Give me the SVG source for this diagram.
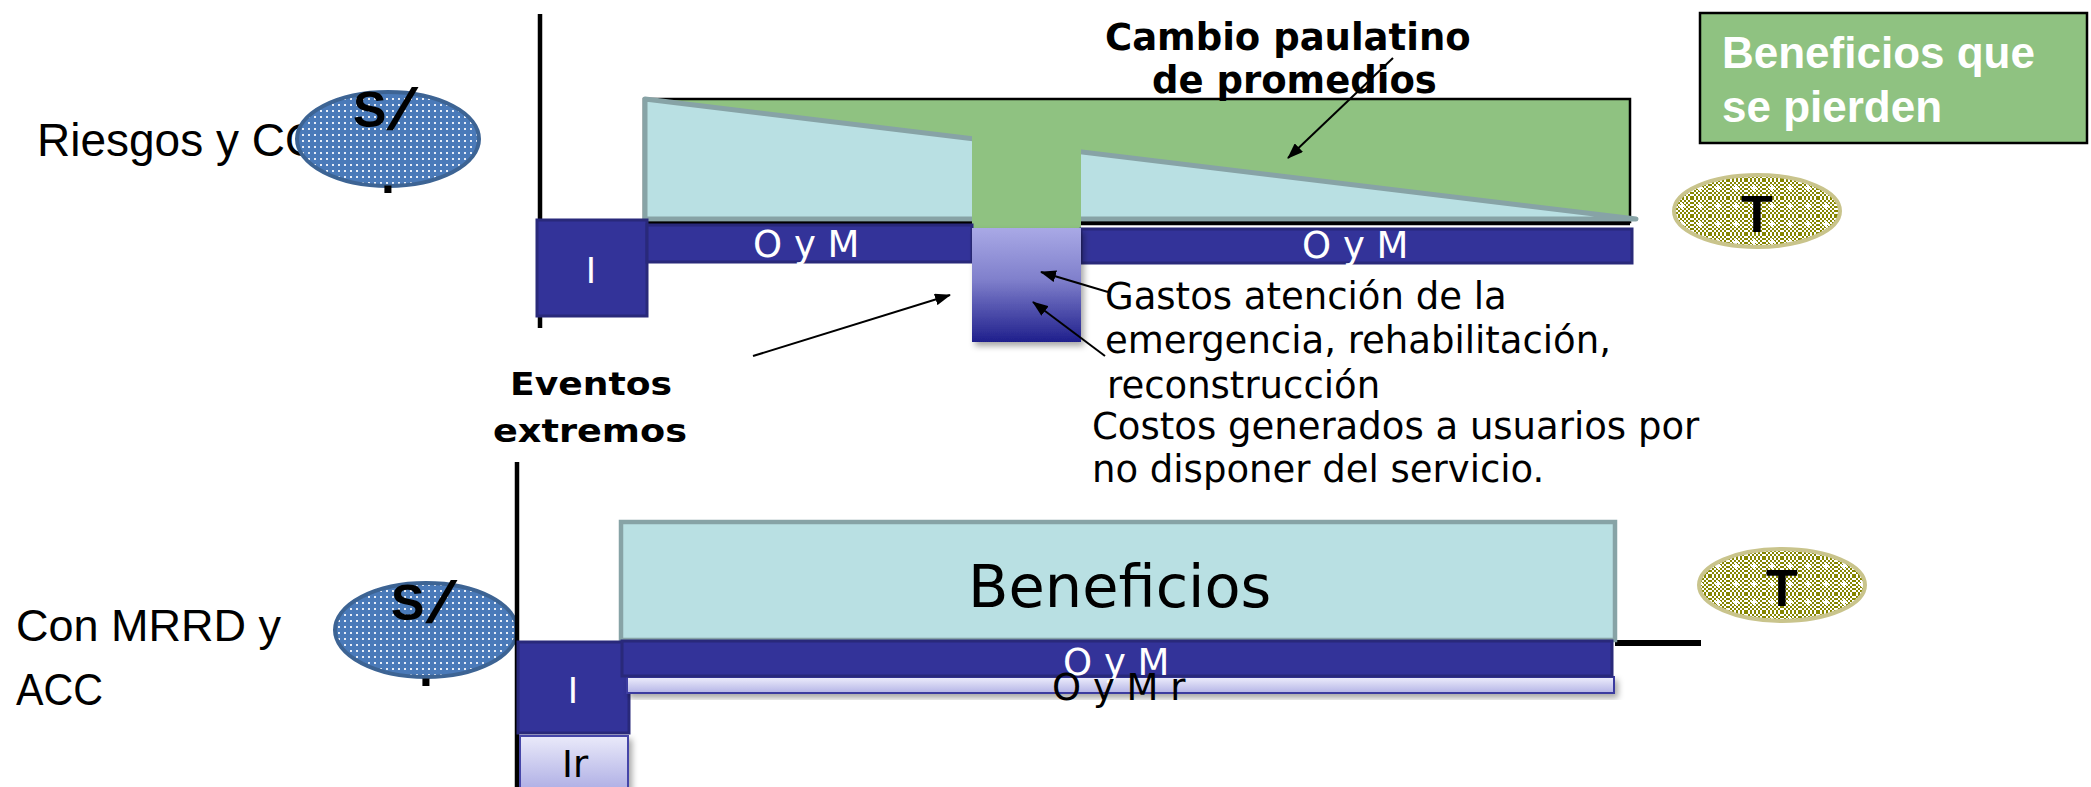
<svg xmlns="http://www.w3.org/2000/svg" width="2091" height="787" viewBox="0 0 2091 787">
<defs>
<style>
.ls{font-family:"Liberation Sans",Arial,sans-serif;}
.dv{font-family:"DejaVu Sans",Verdana,sans-serif;}
.b{font-weight:bold;}
.wt{fill:#ffffff;}
.bk{fill:#000000;}
.axis{stroke:#000;stroke-width:4.5;fill:none;}
.bar{fill:#333399;stroke:#29297a;stroke-width:3;}
.conn{stroke:#000;stroke-width:2;fill:none;marker-end:url(#ah);}
.sell{fill:url(#dots);stroke:#3d6494;stroke-width:4;}
.tell{fill:url(#tpat);stroke:#c9c48c;stroke-width:4;}
</style>
<pattern id="dots" width="6" height="6" patternUnits="userSpaceOnUse">
<rect width="6" height="6" fill="#4a7ab9"/>
<rect x="2" y="2" width="2" height="2" fill="#e8eef8"/>
</pattern>
<pattern id="chk" width="4" height="4" patternUnits="userSpaceOnUse">
<rect width="4" height="4" fill="#ffffff"/>
<rect width="2" height="2" fill="#858500"/>
<rect x="2" y="2" width="2" height="2" fill="#858500"/>
</pattern>
<pattern id="tpat" width="18" height="18" patternUnits="userSpaceOnUse">
<rect width="18" height="18" fill="url(#chk)"/>
<rect x="7" y="5" width="2" height="6" fill="#fff"/>
<rect x="5" y="7" width="6" height="2" fill="#fff"/>
</pattern>
<linearGradient id="gEmer" x1="0" y1="0" x2="0" y2="1">
<stop offset="0" stop-color="#a9a9e6"/>
<stop offset="0.45" stop-color="#8080cc"/>
<stop offset="1" stop-color="#1f1f8c"/>
</linearGradient>
<linearGradient id="gLight" x1="0" y1="0" x2="0" y2="1">
<stop offset="0" stop-color="#eeeefc"/>
<stop offset="1" stop-color="#b4b4e6"/>
</linearGradient>
<linearGradient id="gIr" x1="0" y1="0" x2="0" y2="1">
<stop offset="0" stop-color="#eaeafa"/>
<stop offset="1" stop-color="#a8a8e2"/>
</linearGradient>
<filter id="sh" x="-20%" y="-20%" width="140%" height="160%">
<feDropShadow dx="3" dy="4" stdDeviation="3" flood-color="#000" flood-opacity="0.35"/>
</filter>
<marker id="ah" markerWidth="16" markerHeight="12" refX="15" refY="6" orient="auto" markerUnits="userSpaceOnUse">
<path d="M0,0 L16,6 L0,12 z" fill="#000"/>
</marker>
</defs>
<rect width="2091" height="787" fill="#ffffff"/>

<!-- ===== Top scenario ===== -->
<g id="label-riesgos">
<text class="ls" x="37" y="156" font-size="46">Riesgos y CO</text>
</g>
<g id="ellipse-s-top">
<ellipse class="sell" cx="388" cy="139" rx="91" ry="47"/>
<text class="ls b bk" x="353" y="127" font-size="50">S</text>
<text class="ls b bk" transform="translate(386,129) skewX(-22)" font-size="58">/</text>
<text class="ls b bk" x="388" y="193" font-size="50" text-anchor="middle">.</text>
</g>
<g id="axis-top">
<line class="axis" x1="540" y1="14" x2="540" y2="328"/>
</g>
<g id="loss-area">
<rect x="644" y="99" width="986" height="123" fill="#8fc281" stroke="#000" stroke-width="2.5"/>
<polygon points="645,99 1636,219 645,219" fill="#b9e0e3" stroke="#87a3a6" stroke-width="5" stroke-linejoin="round" stroke-linecap="round"/>
<line x1="645" y1="223.5" x2="1630" y2="223.5" stroke="#000" stroke-width="3.5"/>
<rect x="972" y="101" width="109" height="127" fill="#8fc281"/>
</g>
<g id="box-I-top">
<rect x="537" y="220" width="110" height="96" class="bar"/>
<text class="dv wt" x="591" y="283" font-size="35" text-anchor="middle">I</text>
</g>
<g id="bar-oym-left">
<rect x="647" y="225" width="325" height="37" class="bar"/>
<text class="dv wt" x="753" y="257" font-size="37">O y M</text>
</g>
<g id="bar-oym-right">
<rect x="1081" y="229" width="551" height="34" class="bar"/>
<text class="dv wt" x="1302" y="258" font-size="37">O y M</text>
</g>
<g id="box-emergency">
<rect x="972" y="228" width="109" height="114" fill="url(#gEmer)" filter="url(#sh)"/>
</g>
<g id="label-cambio">
<text class="dv b bk" x="1105" y="50" font-size="37">Cambio paulatino</text>
<text class="dv b bk" x="1152" y="93" font-size="37">de promedios</text>
</g>
<g id="box-beneficios-pierden">
<rect x="1700" y="13" width="387" height="130" fill="#8fc281" stroke="#000" stroke-width="2.5"/>
<text class="ls b wt" x="1722" y="68" font-size="44">Beneficios que</text>
<text class="ls b wt" x="1722" y="122" font-size="44">se pierden</text>
</g>
<g id="ellipse-t-top">
<ellipse class="tell" cx="1757" cy="211" rx="83" ry="36"/>
<text class="ls b bk" x="1757" y="232" font-size="52" text-anchor="middle">T</text>
</g>
<g id="label-gastos">
<text class="dv bk" x="1105" y="309" font-size="37">Gastos atención de la</text>
<text class="dv bk" x="1105" y="353" font-size="37">emergencia, rehabilitación,</text>
<text class="dv bk" x="1107" y="398" font-size="37">reconstrucción</text>
</g>
<g id="label-costos">
<text class="dv bk" x="1092" y="439" font-size="37">Costos generados a usuarios por</text>
<text class="dv bk" x="1092" y="482" font-size="37">no disponer del servicio.</text>
</g>
<g id="label-eventos">
<text class="dv b bk" x="591" y="395" font-size="32" text-anchor="middle" textLength="162" lengthAdjust="spacingAndGlyphs">Eventos</text>
<text class="dv b bk" x="590" y="442" font-size="32" text-anchor="middle" textLength="194" lengthAdjust="spacingAndGlyphs">extremos</text>
</g>

<!-- ===== Bottom scenario ===== -->
<g id="label-con">
<text class="ls" x="16" y="641" font-size="45">Con MRRD y</text>
<text class="ls" x="16" y="705" font-size="45" textLength="87" lengthAdjust="spacingAndGlyphs">ACC</text>
</g>
<g id="ellipse-s-bottom">
<ellipse class="sell" cx="426" cy="630" rx="91" ry="47"/>
<text class="ls b bk" x="391" y="620" font-size="50">S</text>
<text class="ls b bk" transform="translate(425,622) skewX(-22)" font-size="58">/</text>
<text class="ls b bk" x="426" y="686" font-size="50" text-anchor="middle">.</text>
</g>
<g id="axis-bottom">
<line class="axis" x1="517" y1="462" x2="517" y2="787"/>
<line x1="1615" y1="643" x2="1701" y2="643" stroke="#000" stroke-width="6"/>
</g>
<g id="box-beneficios">
<rect x="621" y="522" width="994" height="118" fill="#b9e0e3" stroke="#87a3a6" stroke-width="4.5"/>
<text class="dv bk" x="968" y="607" font-size="59">Beneficios</text>
</g>
<g id="box-Ir">
<rect x="520" y="736" width="108" height="60" fill="url(#gIr)" stroke="#4545a8" stroke-width="2" filter="url(#sh)"/>
<text class="dv bk" x="562" y="777" font-size="37">Ir</text>
</g>
<g id="box-I-bottom">
<rect x="518" y="642" width="111" height="91" class="bar"/>
<text class="dv wt" x="573" y="703" font-size="35" text-anchor="middle">I</text>
</g>
<g id="bar-oymr">
<rect x="627" y="677" width="987" height="16" fill="url(#gLight)" stroke="#3a3aa0" stroke-width="2" filter="url(#sh)"/>
</g>
<g id="bar-oym-bottom">
<rect x="622" y="641" width="990" height="35" class="bar"/>
<text class="dv wt" x="1063" y="675" font-size="37">O y M</text>
</g>
<g id="label-oymr">
<text class="dv bk" x="1052" y="700" font-size="37">O y M r</text>
</g>
<g id="ellipse-t-bottom">
<ellipse class="tell" cx="1782" cy="585" rx="83" ry="36"/>
<text class="ls b bk" x="1782" y="606" font-size="52" text-anchor="middle">T</text>
</g>

<g id="connectors">
<line class="conn" x1="1393" y1="58" x2="1288" y2="158"/>
<line class="conn" x1="753" y1="356" x2="950" y2="295"/>
<line class="conn" x1="1108" y1="292" x2="1041" y2="272"/>
<line class="conn" x1="1105" y1="356" x2="1033" y2="302"/>
</g>
</svg>
